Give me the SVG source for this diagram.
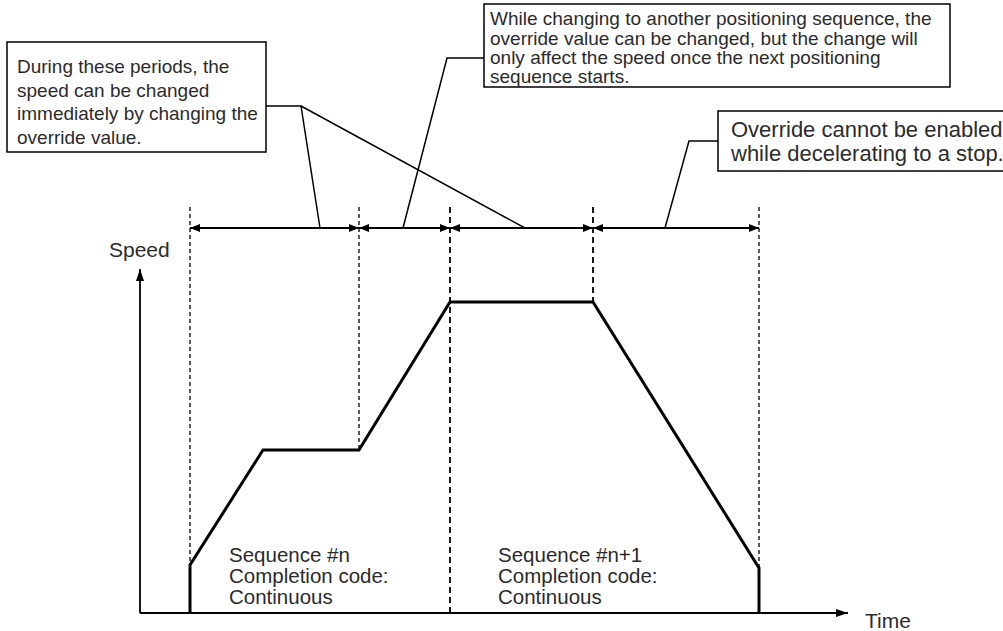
<svg xmlns="http://www.w3.org/2000/svg" width="1003" height="631" viewBox="0 0 1003 631">
<defs>
<style>
.t{font-family:"Liberation Sans",Arial,Helvetica,sans-serif;fill:#2b2b2b}
.box{fill:#fff;stroke:#000;stroke-width:1.5}
.ld{fill:none;stroke:#000;stroke-width:1.5}
.dash{fill:none;stroke:#000;stroke-width:1.3;stroke-dasharray:4 3}
.dash2{fill:none;stroke:#000;stroke-width:1.8;stroke-dasharray:6 4}
.dim{fill:none;stroke:#000;stroke-width:2;marker-start:url(#ah);marker-end:url(#ah)}
.ax{fill:none;stroke:#000;stroke-width:1.8;marker-end:url(#ah2)}
.prof{fill:none;stroke:#000;stroke-width:3;stroke-linejoin:miter}
</style>
<marker id="ah" viewBox="0 0 10 8" refX="10" refY="4" markerWidth="10" markerHeight="8" markerUnits="userSpaceOnUse" orient="auto-start-reverse"><path d="M0,0 L10,4 L0,8 Z" fill="#000"/></marker>
<marker id="ah2" viewBox="0 0 12 8" refX="12" refY="4" markerWidth="12" markerHeight="8" markerUnits="userSpaceOnUse" orient="auto"><path d="M0,0 L12,4 L0,8 Z" fill="#000"/></marker>
</defs>
<rect width="1003" height="631" fill="#fff"/>

<g id="connectors">
<polyline class="ld" points="266,106 301,106 320,228"/>
<line class="ld" x1="301" y1="106" x2="525" y2="228"/>
<polyline class="ld" points="484,58 447,58 403,228"/>
<polyline class="ld" points="718,141 689,141 665,228"/>
<line class="dim" x1="190" y1="228" x2="359" y2="228"/>
<line class="dim" x1="359" y1="228" x2="450" y2="228"/>
<line class="dim" x1="450" y1="228" x2="593" y2="228"/>
<line class="dim" x1="593" y1="228" x2="759" y2="228"/>
</g>

<g id="guides">
<line class="dash" x1="190" y1="207" x2="190" y2="565"/>
<line class="dash" x1="359" y1="207" x2="359" y2="450"/>
<line class="dash2" x1="450" y1="207" x2="450" y2="613"/>
<line class="dash2" x1="593" y1="207" x2="593" y2="302"/>
<line class="dash" x1="759" y1="207" x2="759" y2="568"/>
</g>

<g id="axes">
<line class="ax" x1="140" y1="613" x2="140" y2="269"/>
<line class="ax" x1="140" y1="613" x2="848" y2="613"/>
<text class="t" x="109" y="257" font-size="21">Speed</text>
<text class="t" x="865" y="628" font-size="21">Time</text>
</g>

<g id="profile">
<polyline class="prof" points="190,613 190,565 263,450 359,450 450,302 593,302 759,568 759,613"/>
</g>

<g id="note-periods">
<rect class="box" x="7" y="42" width="259" height="110"/>
<text class="t" font-size="19"><tspan x="17" y="73">During these periods, the</tspan><tspan x="17" y="96.5">speed can be changed</tspan><tspan x="17" y="120">immediately by changing the</tspan><tspan x="17" y="143.5">override value.</tspan></text>
</g>

<g id="note-changing">
<rect class="box" x="484" y="4" width="466" height="83"/>
<text class="t" font-size="19"><tspan x="490" y="25">While changing to another positioning sequence, the</tspan><tspan x="490" y="44.5">override value can be changed, but the change will</tspan><tspan x="490" y="64">only affect the speed once the next positioning</tspan><tspan x="490" y="83">sequence starts.</tspan></text>
</g>

<g id="note-decel">
<rect class="box" x="718" y="111" width="286" height="60"/>
<text class="t" font-size="22"><tspan x="731" y="137">Override cannot be enabled</tspan><tspan x="731" y="161">while decelerating to a stop.</tspan></text>
</g>

<g id="seq-n">
<text class="t" font-size="20.5"><tspan x="229" y="562">Sequence #n</tspan><tspan x="229" y="583">Completion code:</tspan><tspan x="229" y="604">Continuous</tspan></text>
</g>

<g id="seq-n1">
<text class="t" font-size="20.5"><tspan x="498" y="562">Sequence #n+1</tspan><tspan x="498" y="583">Completion code:</tspan><tspan x="498" y="604">Continuous</tspan></text>
</g>
</svg>
